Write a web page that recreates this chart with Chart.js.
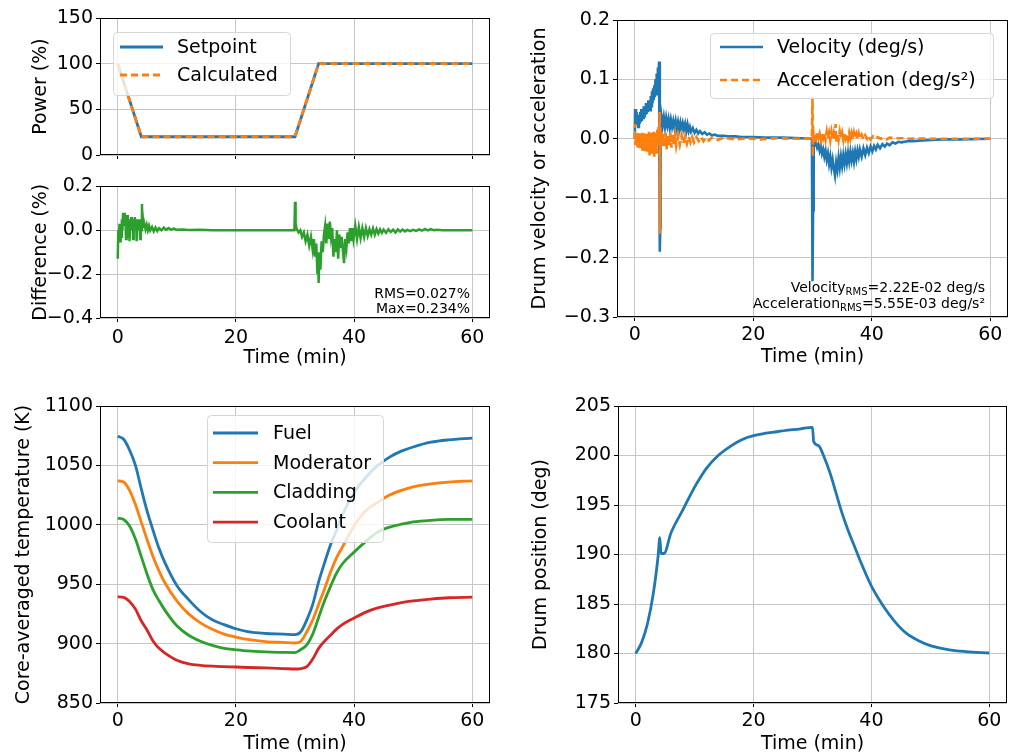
<!DOCTYPE html>
<html>
<head>
<meta charset="utf-8">
<script src="https://cdn.jsdelivr.net/npm/chart.js@4.4.0/dist/chart.umd.min.js"></script>
<style>
body { margin: 0; background: #fff; }
#fig { position: relative; width: 1015px; height: 755px; }
#fig canvas { position: absolute; }
</style>
</head>
<body>
<div id="fig">
<canvas id="power"></canvas>
<canvas id="diff"></canvas>
<canvas id="drumRate"></canvas>
<canvas id="temps"></canvas>
<canvas id="drumPos"></canvas>
</div>
<script>

/* ---- data ---- */

const timeTicks = [0, 20, 40, 60];

// power panel
const powerTime = [0, 4, 30, 34, 60];
const setpoint = [100, 20, 20, 100, 100];
const calculated = [100, 20, 20, 100, 100];
const powerTicks = [0, 50, 100, 150];

// difference panel
const diffTime = [0,0.1,0.2,0.3,0.4,0.5,0.6,0.7,0.8,0.9,
  1.0,1.1,1.2,1.3,1.4,1.5,1.6,1.7,1.8,1.9,
  2.0,2.1,2.2,2.3,2.4,2.5,2.6,2.7,2.8,2.9,
  3.0,3.1,3.2,3.3,3.4,3.5,3.6,3.7,3.8,3.9,
  4.0,4.1,4.2,4.3,4.4,4.5,4.7,4.9,5.1,5.3,
  5.5,5.8,6.1,6.4,6.7,7.0,7.4,7.8,8.2,8.6,
  9.0,9.5,10,11,12,14,16,20,25,29.9,
  30.0,30.1,30.3,30.6,30.9,31.2,31.5,31.8,32.1,32.4,
  32.7,33.0,33.2,33.4,33.6,33.8,33.9,34.0,34.1,34.3,
  34.5,34.7,34.9,35.1,35.3,35.5,35.7,35.9,36.1,36.3,
  36.5,36.7,36.9,37.1,37.3,37.5,37.7,37.9,38.1,38.3,
  38.5,38.7,38.9,39.1,39.3,39.5,39.7,39.9,40.2,40.5,
  40.8,41.1,41.4,41.7,42.0,42.3,42.6,42.9,43.2,43.5,
  43.8,44.1,44.4,44.7,45.0,45.4,45.8,46.2,46.6,47.0,
  47.4,47.8,48.2,48.6,49.0,49.5,50,50.5,51,51.5,
  52,52.5,53,53.5,54,55,57,60];
const difference = [-0.13,0.0,-0.04,0.03,-0.05,0.02,-0.03,0.05,0.0,0.08,
  0.02,0.08,0.03,0.07,-0.04,0.06,0.01,0.07,-0.03,0.05,
  -0.05,0.04,0.0,0.06,0.02,0.05,-0.04,0.04,0.01,0.06,
  0.0,0.05,-0.05,0.04,0.0,0.05,0.01,0.04,-0.04,0.05,
  0.0,0.12,0.02,0.04,0.01,0.03,0.005,0.025,0.0,0.02,
  0.0,0.015,-0.005,0.012,-0.003,0.01,0.0,0.012,0.002,0.01,
  0.003,0.008,0.002,0.004,0.001,0.002,0,0,0,0,
  0.13,0.03,0.005,-0.01,0.0,-0.03,-0.01,-0.05,-0.02,-0.07,
  -0.03,-0.09,-0.04,-0.12,-0.06,-0.2,-0.1,-0.24,-0.12,-0.18,
  -0.05,-0.1,-0.02,0.02,-0.06,0.03,-0.04,0.04,-0.03,0.01,
  -0.12,-0.04,-0.1,0.0,-0.13,-0.02,-0.08,-0.03,-0.09,-0.15,
  -0.04,-0.08,-0.01,-0.06,0.01,-0.05,0.01,-0.04,0.02,-0.04,
  0.015,-0.035,0.01,-0.03,0.01,-0.025,0.005,-0.02,0.008,-0.02,
  0.005,-0.015,0.004,-0.012,0.003,-0.012,0.004,-0.008,0.003,-0.01,
  0.004,-0.006,0.003,-0.005,0.002,-0.004,0.002,-0.003,0.004,-0.002,
  0.006,-0.001,0.005,0.0,0.002,0.0,0.0,0.0];
const diffTicks = [-0.4, -0.2, 0, 0.2];

// drum velocity / acceleration panel
const velTime = [0,0.05,0.2,0.3,0.4,0.5,0.6,0.7,0.8,0.9,
  1.0,1.1,1.2,1.3,1.4,1.5,1.6,1.7,1.8,1.9,
  2.0,2.1,2.2,2.3,2.4,2.5,2.6,2.7,2.8,2.9,
  3.0,3.1,3.2,3.3,3.4,3.5,3.6,3.7,3.8,3.9,
  4.0,4.1,4.2,4.25,4.3,4.35,4.5,4.7,4.9,5.1,
  5.3,5.5,5.7,5.9,6.1,6.3,6.5,6.7,6.9,7.1,
  7.3,7.5,7.7,7.9,8.1,8.3,8.5,8.7,8.9,9.1,
  9.3,9.5,9.8,10.1,10.4,10.7,11.0,11.4,11.8,12.2,
  12.6,13,13.5,14,15,16,17,18,20,22,
  25,28,29.9,30.0,30.1,30.2,30.4,30.6,30.8,31.0,
  31.2,31.4,31.6,31.8,32.0,32.2,32.4,32.6,32.8,33.0,
  33.2,33.4,33.6,33.8,34.0,34.2,34.4,34.6,34.8,35.0,
  35.2,35.4,35.6,35.8,36.0,36.2,36.4,36.6,36.8,37.0,
  37.2,37.4,37.6,37.8,38.0,38.3,38.6,38.9,39.2,39.5,
  39.8,40.1,40.4,40.7,41.0,41.4,41.8,42.2,42.6,43.0,
  43.5,44,44.5,45,46,47,48,50,52,55,
  60];
const velocity = [0.0,0.05,0.035,0.045,0.025,0.04,0.02,0.038,0.025,0.045,
  0.028,0.05,0.03,0.045,0.035,0.055,0.038,0.05,0.04,0.06,
  0.042,0.058,0.045,0.065,0.05,0.062,0.048,0.072,0.055,0.08,
  0.06,0.085,0.065,0.09,0.07,0.1,0.075,0.11,0.085,0.12,
  0.09,0.13,0.11,-0.19,-0.15,0.02,0.038,0.022,0.036,0.02,
  0.035,0.022,0.033,0.018,0.032,0.02,0.03,0.018,0.03,0.017,
  0.028,0.016,0.027,0.015,0.026,0.016,0.025,0.013,0.024,0.013,
  0.02,0.012,0.018,0.01,0.015,0.009,0.013,0.008,0.011,0.007,
  0.009,0.006,0.007,0.005,0.005,0.004,0.004,0.003,0.003,0.002,
  0.002,0.001,0.0,-0.24,-0.12,-0.005,-0.01,-0.006,-0.015,-0.01,
  -0.02,-0.012,-0.025,-0.018,-0.03,-0.02,-0.035,-0.025,-0.042,-0.03,
  -0.048,-0.035,-0.05,-0.062,-0.04,-0.052,-0.032,-0.048,-0.03,-0.045,
  -0.028,-0.042,-0.026,-0.04,-0.024,-0.038,-0.022,-0.036,-0.024,-0.038,
  -0.022,-0.034,-0.02,-0.03,-0.018,-0.03,-0.016,-0.027,-0.015,-0.024,
  -0.013,-0.021,-0.012,-0.018,-0.01,-0.016,-0.009,-0.013,-0.008,-0.011,
  -0.006,-0.008,-0.005,-0.006,-0.004,-0.004,-0.003,-0.002,-0.001,-0.001,
  0.0];
const accTime = [0,0.05,0.1,0.2,0.3,0.4,0.5,0.6,0.7,0.8,
  0.9,1.0,1.1,1.2,1.3,1.4,1.5,1.6,1.7,1.8,
  1.9,2.0,2.1,2.2,2.3,2.4,2.5,2.6,2.7,2.8,
  2.9,3.0,3.1,3.2,3.3,3.4,3.5,3.6,3.7,3.8,
  3.9,4.0,4.1,4.2,4.25,4.3,4.4,4.5,4.6,4.8,
  5.0,5.2,5.4,5.6,5.8,6.0,6.2,6.4,6.6,6.8,
  7.0,7.3,7.6,7.9,8.2,8.5,8.8,9.1,9.4,9.7,
  10.0,10.4,10.8,11.2,11.6,12,12.5,13,14,15,
  17,19,21,24,27,29.9,30.0,30.05,30.1,30.2,
  30.4,30.6,30.8,31.0,31.2,31.4,31.6,31.8,32.0,32.2,
  32.4,32.6,32.8,33.0,33.2,33.4,33.6,33.8,33.9,34.0,
  34.2,34.4,34.6,34.8,35.0,35.2,35.4,35.6,35.8,36.0,
  36.2,36.4,36.6,36.8,37.0,37.2,37.4,37.6,37.8,38.0,
  38.3,38.6,38.9,39.2,39.5,39.8,40.2,40.6,41.0,41.5,
  42,42.5,43,44,45,46,48,50,53,56,
  60];
const acceleration = [0.0,0.025,-0.01,0.005,-0.012,0.008,-0.015,0.01,-0.01,0.006,
  -0.018,0.008,-0.012,0.01,-0.02,0.005,-0.015,0.01,-0.022,0.008,
  -0.015,0.01,-0.025,0.006,-0.018,0.012,-0.028,0.005,-0.02,0.01,
  -0.025,0.008,-0.02,0.012,-0.03,0.006,-0.018,0.01,-0.025,0.015,
  -0.012,0.02,-0.005,0.045,-0.16,0.02,-0.01,0.012,-0.012,0.008,
  -0.015,0.01,-0.018,0.006,-0.012,0.01,-0.015,0.008,-0.01,0.006,
  -0.012,0.005,-0.01,0.006,-0.008,0.004,-0.008,0.004,-0.006,0.003,
  -0.006,0.003,-0.004,0.003,-0.004,0.002,-0.003,0.002,-0.002,0.002,
  -0.001,0.001,-0.001,0.001,0.0,0.0,0.07,-0.03,0.02,-0.005,
  0.008,0.0,0.01,0.002,0.009,-0.002,0.011,0.001,0.01,-0.002,
  0.012,0.0,0.01,-0.003,0.012,0.0,0.01,-0.002,0.025,-0.005,
  0.01,-0.002,0.012,0.0,0.01,-0.002,0.011,0.001,0.009,-0.002,
  0.01,0.0,0.009,-0.002,0.01,0.001,0.008,-0.001,0.009,0.0,
  0.007,-0.001,0.006,0.0,0.006,-0.001,0.004,0.0,0.003,0.0,
  0.002,-0.001,0.002,0.001,0.001,0.0,0.0005,0.0,0.0,0.0,
  0.0];
const rateTicks = [-0.3, -0.2, -0.1, 0, 0.1, 0.2];

// core-averaged temperatures
const tempTime = [0,1,2,3,4,5,6,7,8,10,12,14,16,18,20,22,25,28,30,31,32,33,34,35,36,37,38,40,42,44,46,48,50,53,56,60];
const fuelTemp = [1074.5,1072,1063,1050,1030,1011,995,980,968,949,937,927,920,916,912.5,910,908.5,908,907.5,910,
  920,933,952,968,983,995,1008,1027,1040,1050,1057,1062,1065.5,1069.5,1071.5,1073];
const moderatorTemp = [1037,1036,1029,1017,1002,987,973,961,951,936,925,917.5,912,908,905.5,903.5,901.6,901,900.5,902,
  910,920,933,946,960,972,981,999,1012,1019,1025,1029,1032,1034.5,1036,1037];
const claddingTemp = [1005.5,1004.5,999,988,973,958,945,936,928,915,907,902,898.5,896,894.8,893.8,893,892.6,892.4,895,
  899,908,922,936,948,959,967,977,986,994,998,1000.5,1002.4,1003.8,1004.5,1004.6];
const coolantTemp = [939.4,939,935.5,929,919,911,902,896,892,886,883,881.7,881,880.6,880.3,879.9,879.5,879,878.6,879,
  880.6,887,896,902,907,912,916,921.5,926.5,930,932.4,934.5,936,937.5,938.6,939.1];
const tempTicks = [850, 900, 950, 1000, 1050, 1100];

// drum position
const drumTime = [0,1,2,3,3.8,4.1,4.3,4.8,6,8,10,12,14,16,18,20,24,28,30,30.2,31,32,33,34,35,36,37,38,40,42,44,46,48,50,53,56,60];
const drumAngle = [180,181.1,183,186.1,189.8,191.7,190.1,190.1,192.2,194.5,196.8,198.7,200,200.9,201.6,202,202.4,202.7,202.85,201.4,201,199.8,198.2,196.2,194.2,192.5,191,189.5,186.8,184.8,183.2,182,181.3,180.8,180.4,180.2,180.05];
const drumTicks = [175, 180, 185, 190, 195, 200, 205];

/* ---- drawing ---- */

Chart.defaults.font.family = "'DejaVu Sans', sans-serif";
Chart.defaults.font.size = 19;
Chart.defaults.color = '#000';

const BLUE = '#1f77b4', ORANGE = '#ff7f0e', GREEN = '#2ca02c', RED = '#d62728';
const GRID = '#c6c6c6';

function pts(xs, ys) { return xs.map((x, i) => ({x: x, y: ys[i]})); }
function fmt1(v) { return v.toFixed(1).replace('-', '\u2212'); }

// black box around the plot area
const framePlugin = {
  id: 'frame',
  afterDatasetsDraw(chart) {
    const a = chart.chartArea, ctx = chart.ctx;
    ctx.save();
    ctx.strokeStyle = '#000';
    ctx.lineWidth = 1;
    ctx.strokeRect(Math.round(a.left) + 0.5, Math.round(a.top) + 0.5,
      Math.round(a.right - a.left) - 1, Math.round(a.bottom - a.top) - 1);
    ctx.restore();
  }
};

// small text notes (RMS values) in the lower right corner
const notesPlugin = {
  id: 'notes',
  afterDatasetsDraw(chart, args, o) {
    if (!o || !o.lines) return;
    const a = chart.chartArea, ctx = chart.ctx;
    ctx.save();
    ctx.fillStyle = '#000';
    ctx.textBaseline = 'alphabetic';
    o.lines.forEach(line => {
      let w = 0;
      line.segs.forEach(s => {
        ctx.font = (s.sub ? 10 : 14) + "px 'DejaVu Sans'";
        s.w = ctx.measureText(s.t).width;
        w += s.w;
      });
      let x = a.right - o.dr - w;
      const base = a.bottom - line.db + 5;
      line.segs.forEach(s => {
        ctx.font = (s.sub ? 10 : 14) + "px 'DejaVu Sans'";
        ctx.fillText(s.t, x, s.sub ? base + 3 : base);
        x += s.w;
      });
    });
    ctx.restore();
  }
};

// matplotlib style legend box inside the axes
const boxLegend = {
  id: 'boxLegend',
  afterDraw(chart, args, o) {
    if (!o || !o.w) return;
    const a = chart.chartArea, ctx = chart.ctx;
    const x0 = a.left + o.dx, y0 = a.top + o.dy;
    ctx.save();
    ctx.beginPath();
    ctx.roundRect(x0 + 0.5, y0 + 0.5, o.w, o.h, 4);
    ctx.fillStyle = 'rgba(255,255,255,0.8)';
    ctx.fill();
    ctx.strokeStyle = '#d6d6d6';
    ctx.lineWidth = 1;
    ctx.stroke();
    chart.data.datasets.forEach((d, i) => {
      const cy = y0 + o.first + i * o.row;
      ctx.beginPath();
      ctx.setLineDash(d.borderDash || []);
      ctx.strokeStyle = d.borderColor;
      ctx.lineWidth = Math.max(d.borderWidth, 2.6);
      ctx.moveTo(x0 + o.hx, cy);
      ctx.lineTo(x0 + o.hx + o.hl, cy);
      ctx.stroke();
      ctx.setLineDash([]);
      ctx.fillStyle = '#000';
      ctx.font = "19px 'DejaVu Sans'";
      ctx.textBaseline = 'middle';
      ctx.fillText(d.label, x0 + o.tx, cy + 1);
    });
    ctx.restore();
  }
};

function makeChart(id, g, datasets, ycfg, showX, extra) {
  const cv = document.getElementById(id);
  cv.width = g.w; cv.height = g.h;
  cv.style.left = g.left + 'px';
  cv.style.top = g.top + 'px';
  const yW = g.plotL - g.left - g.padL;
  const padT = g.plotT - g.top;
  const padR = g.left + g.w - g.plotR;
  const xH = g.top + g.h - g.plotB;
  return new Chart(cv, {
    type: 'line',
    data: { datasets: datasets },
    options: {
      responsive: false,
      animation: false,
      layout: { padding: { left: g.padL, top: padT, right: padR, bottom: 0 } },
      elements: { point: { radius: 0 }, line: { tension: 0 } },
      plugins: Object.assign({ legend: { display: false }, tooltip: { enabled: false } }, extra),
      scales: {
        x: {
          type: 'linear', min: -3, max: 63,
          afterBuildTicks: s => { s.ticks = timeTicks.map(v => ({ value: v })); },
          afterFit: s => { s.height = xH; },
          grid: { color: GRID, tickColor: '#000', tickLength: 4 },
          border: { display: false },
          ticks: { display: showX, padding: g.xPad || 3, callback: v => String(v) },
          title: { display: showX, text: 'Time (min)', padding: { top: 0, bottom: 0 } }
        },
        y: {
          min: ycfg.min, max: ycfg.max,
          afterBuildTicks: s => { s.ticks = ycfg.ticks.map(v => ({ value: v })); },
          afterFit: s => { s.width = yW; },
          grid: { color: GRID, tickColor: '#000', tickLength: 4 },
          border: { display: false },
          ticks: { padding: 3, callback: ycfg.fmt || (v => String(v)) },
          title: { display: true, text: ycfg.title, padding: { top: 4, bottom: 0 } }
        }
      }
    },
    plugins: [framePlugin, notesPlugin, boxLegend]
  });
}

// power
makeChart('power',
  { left: 0, top: 0, w: 500, h: 172, plotL: 100, plotT: 18, plotR: 490, plotB: 155, padL: 26 },
  [
    { label: 'Setpoint', data: pts(powerTime, setpoint), borderColor: BLUE, borderWidth: 2.8, order: 2 },
    { label: 'Calculated', data: pts(powerTime, calculated), borderColor: ORANGE, borderWidth: 2.8, borderDash: [7, 4], order: 1 }
  ],
  { min: 0, max: 150, ticks: powerTicks, title: 'Power (%)' },
  false,
  { boxLegend: { dx: 13, dy: 14, w: 177, h: 63, first: 15, row: 28, hx: 7, hl: 43, tx: 64 } });

// difference
makeChart('diff',
  { left: 0, top: 172, w: 500, h: 197, plotL: 100, plotT: 183, plotR: 490, plotB: 318, padL: 26, xPad: 5 },
  [
    { label: 'Difference', data: pts(diffTime, difference), borderColor: GREEN, borderWidth: 2.5 }
  ],
  { min: -0.4, max: 0.2, ticks: diffTicks, title: 'Difference (%)', fmt: fmt1 },
  true,
  { notes: { dr: 20, lines: [
      { db: 25, segs: [{ t: 'RMS=0.027%' }] },
      { db: 10, segs: [{ t: 'Max=0.234%' }] }
  ] } });

// drum velocity / acceleration
makeChart('drumRate',
  { left: 505, top: 0, w: 510, h: 368, plotL: 617, plotT: 20, plotR: 1008, plotB: 317, padL: 20 },
  [
    { label: 'Velocity (deg/s)', data: pts(velTime, velocity), borderColor: BLUE, borderWidth: 2.6, order: 2 },
    { label: 'Acceleration (deg/s\u00b2)', data: pts(accTime, acceleration), borderColor: ORANGE, borderWidth: 2.6, borderDash: [7, 4], order: 1 }
  ],
  { min: -0.3, max: 0.2, ticks: rateTicks, title: 'Drum velocity or acceleration', fmt: fmt1 },
  true,
  {
    boxLegend: { dx: 93, dy: 13, w: 283, h: 65, first: 14, row: 33, hx: 10, hl: 43, tx: 67 },
    notes: { dr: 23, lines: [
      { db: 30, segs: [{ t: 'Velocity' }, { t: 'RMS', sub: true }, { t: '=2.22E-02 deg/s' }] },
      { db: 14, segs: [{ t: 'Acceleration' }, { t: 'RMS', sub: true }, { t: '=5.55E-03 deg/s\u00b2' }] }
    ] }
  });

// temperatures
makeChart('temps',
  { left: 0, top: 390, w: 500, h: 365, plotL: 100, plotT: 406, plotR: 490, plotB: 703, padL: 9 },
  [
    { label: 'Fuel', data: pts(tempTime, fuelTemp), borderColor: BLUE, borderWidth: 2.8, cubicInterpolationMode: 'monotone' },
    { label: 'Moderator', data: pts(tempTime, moderatorTemp), borderColor: ORANGE, borderWidth: 2.8, cubicInterpolationMode: 'monotone' },
    { label: 'Cladding', data: pts(tempTime, claddingTemp), borderColor: GREEN, borderWidth: 2.8, cubicInterpolationMode: 'monotone' },
    { label: 'Coolant', data: pts(tempTime, coolantTemp), borderColor: RED, borderWidth: 2.8, cubicInterpolationMode: 'monotone' }
  ],
  { min: 850, max: 1100, ticks: tempTicks, title: 'Core-averaged temperature (K)' },
  true,
  { boxLegend: { dx: 107, dy: 9, w: 176, h: 127, first: 18, row: 29.7, hx: 6, hl: 45, tx: 66 } });

// drum position
makeChart('drumPos',
  { left: 505, top: 390, w: 510, h: 365, plotL: 618, plotT: 406, plotR: 1007, plotB: 703, padL: 21 },
  [
    { label: 'Drum position', data: pts(drumTime, drumAngle), borderColor: BLUE, borderWidth: 2.8, cubicInterpolationMode: 'monotone' }
  ],
  { min: 175, max: 205, ticks: drumTicks, title: 'Drum position (deg)' },
  true,
  {});

</script>
</body>
</html>
